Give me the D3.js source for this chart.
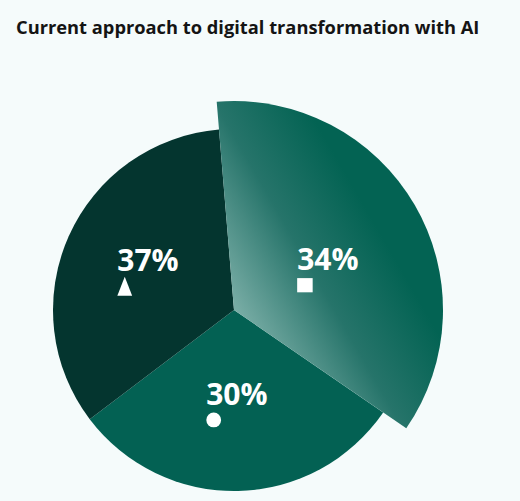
<!doctype html>
<html>
<head>
<meta charset="utf-8">
<script src="https://cdn.jsdelivr.net/npm/d3@7"></script>
<style>
  body { margin: 0; background: #f5fbfb; }
  svg { display: block; }
  text { font-family: "Open Sans", "Noto Sans", sans-serif; }
</style>
</head>
<body>
<svg width="520" height="501"></svg>
<script>
// slices, clockwise from just left of 12 o'clock
var pctLabels = [34, 30, 37];
// arc sizes as drawn in the original (they don't follow the labels exactly)
var sliceShares = [35.9, 30.1, 34.0];
var markers = ["square", "circle", "triangle"];
var sliceColors = ["url(#liftGrad)", "#036153", "#04352f"];
var raised = [true, false, false];

var svg = d3.select("svg");
var cx = 234, cy = 310, r = 181, rBig = 209;
var startDeg = -4.75;

svg.append("text")
  .attr("x", 16).attr("y", 34)
  .style("font-size", "18.3px").style("font-weight", 700)
  .style("fill", "#141414")
  .text("Current approach to digital transformation with AI");

var pie = d3.pie().sort(null).value(d => d)
  .startAngle(startDeg * Math.PI / 180)
  .endAngle(startDeg * Math.PI / 180 + 2 * Math.PI);
var arcs = pie(sliceShares);

// gradient on the raised slice: light at the apex, darker toward the rim
// (coords are relative to the pie centre since the paths sit in a translated g)
var ux = 0.866, uy = -0.501;
var grad = svg.append("defs").append("linearGradient")
  .attr("id", "liftGrad")
  .attr("gradientUnits", "userSpaceOnUse")
  .attr("x1", -8 * ux).attr("y1", -8 * uy)
  .attr("x2", 165 * ux).attr("y2", 165 * uy);
grad.append("stop").attr("offset", 0).attr("stop-color", "#82b3ac");
grad.append("stop").attr("offset", 0.55).attr("stop-color", "#26746a");
grad.append("stop").attr("offset", 1).attr("stop-color", "#036353");

var g = svg.append("g").attr("transform", `translate(${cx},${cy})`);

var arc = d3.arc().innerRadius(0).outerRadius((d, i) => raised[i] ? rBig : r);
var labelArc = d3.arc().innerRadius(95).outerRadius(95);

// draw raised slice last so it sits on top
var order = [1, 2, 0];
order.forEach(function(i) {
  g.append("path")
    .attr("d", arc(arcs[i], i))
    .attr("fill", sliceColors[i]);
});

arcs.forEach(function(d, i) {
  var c = labelArc.centroid(d);
  // the raised slice's label sits a little lower/right of its centroid
  if (raised[i]) { c = [c[0] + 11, c[1] + 8]; }
  var lx = c[0] - 30, ly = c[1];
  g.append("text")
    .attr("x", lx).attr("y", ly)
    .style("font-size", "30px").style("font-weight", 700)
    .style("fill", "#fff")
    .text(pctLabels[i] + "%");
  var mx = lx + 7.5, my = ly + 15;
  if (markers[i] === "square") {
    g.append("rect").attr("x", mx - 7.5).attr("y", my - 7.2)
      .attr("width", 15.5).attr("height", 14.2).attr("fill", "#fff");
  } else if (markers[i] === "circle") {
    g.append("circle").attr("cx", mx).attr("cy", my).attr("r", 7.4).attr("fill", "#fff");
  } else {
    g.append("path")
      .attr("d", `M${mx},${my - 9.5}L${mx + 7.4},${my + 9.5}L${mx - 7.4},${my + 9.5}Z`)
      .attr("fill", "#fff");
  }
});
</script>
</body>
</html>
